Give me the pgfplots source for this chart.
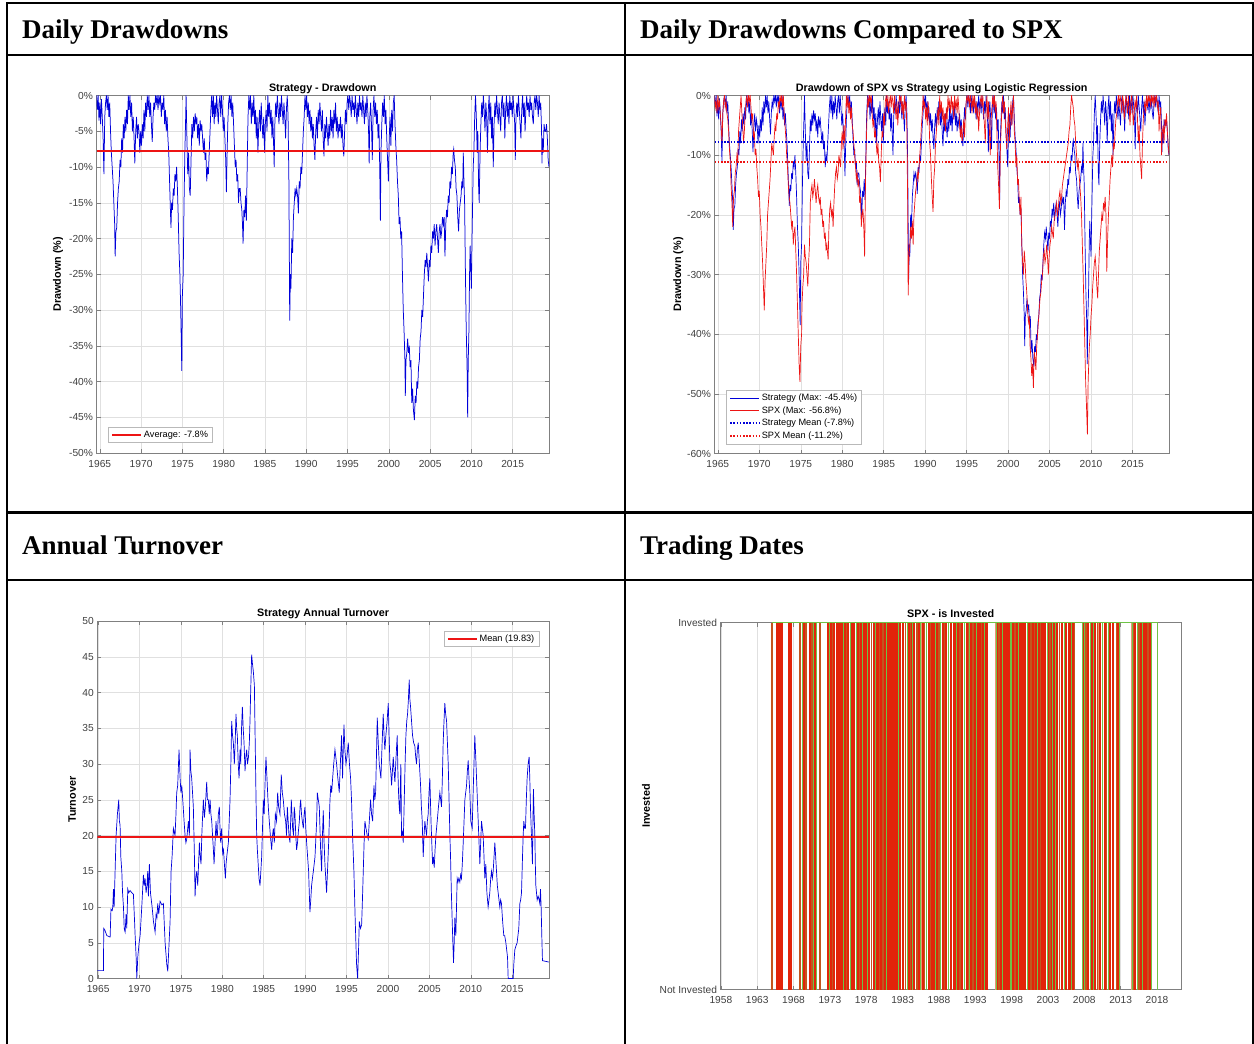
\documentclass[border=0pt]{standalone}
\usepackage{fontspec}
\setmainfont{Liberation Serif}
\newfontfamily\arial{Liberation Sans}
\usepackage{pgfplots}
\pgfplotsset{compat=1.18}
\usepackage{pgfplotstable}

\definecolor{mblue}{rgb}{0,0,0.85}
\definecolor{mred}{rgb}{0.93,0.08,0.08}
\definecolor{axgray}{gray}{0.5}
\definecolor{tickgray}{gray}{0.25}
\definecolor{gridgray}{gray}{0.88}
\definecolor{barred}{RGB}{226,36,10}
\definecolor{bargreen}{RGB}{110,195,70}
\definecolor{barbrown}{RGB}{195,85,30}
\definecolor{barsalmon}{RGB}{232,150,115}

\pgfplotsset{
  every axis title shift=0pt,
  mstyle/.style={
    scale only axis,
    axis line style={axgray, line width=0.6pt},
    tick style={axgray, line width=0.5pt},
    major tick length=4pt,
    tick align=inside,
    grid=major,
    grid style={gridgray, line width=0.5pt},
    tick label style={font=\arial\fontsize{10.2}{11}\selectfont, text=tickgray},
    /pgf/number format/assume math mode=true,
    /pgf/number format/1000 sep={},
    xticklabel style={yshift=-3.5pt},
    title style={font=\arial\bfseries\fontsize{10.8}{12}\selectfont, at={(0.5,1)}, anchor=base, yshift=4.5pt},
    ylabel style={font=\arial\bfseries\fontsize{10.8}{12}\selectfont, anchor=center},
    legend style={font=\arial\fontsize{9.2}{10}\selectfont, draw=gray!55, line width=0.5pt, fill=white, inner xsep=3pt, inner ysep=1.5pt, nodes={inner sep=1.5pt, text height=7pt, text depth=2pt}},
    legend cell align=left,
    legend image code/.code={\draw[#1] (0pt,0pt) -- (29pt,0pt);},
  }
}

\pgfplotstableread[row sep=\\]{
x y\\
1964.6 0\\ 1964.7 -2\\ 1964.8 0\\ 1964.9 -3.5\\ 1965.0 -1\\ 1965.1 -4\\ 1965.2 -0.5\\ 1965.3 -3\\ 1965.4 -6\\ 1965.5 -11\\
1965.6 -3\\ 1965.7 -1\\ 1965.8 0\\ 1965.9 -2\\ 1966.0 0\\ 1966.1 -3\\ 1966.2 -1\\ 1966.3 -5\\ 1966.4 -8\\ 1966.5 -10\\
1966.6 -12\\ 1966.7 -15\\ 1966.8 -18\\ 1966.86 -22.5\\ 1966.95 -19\\ 1967.05 -18.5\\ 1967.15 -15\\ 1967.25 -13\\ 1967.35 -12\\ 1967.45 -9\\
1967.55 -10\\ 1967.65 -6\\ 1967.75 -8\\ 1967.85 -4\\ 1967.95 -6\\ 1968.05 -3\\ 1968.15 -5\\ 1968.25 -2\\ 1968.35 -4\\ 1968.45 0\\
1968.55 -2\\ 1968.65 0\\ 1968.75 -3\\ 1968.85 -1\\ 1968.95 -5\\ 1969.05 -3\\ 1969.15 -6\\ 1969.24 -9.5\\ 1969.35 -5\\ 1969.45 -3\\
1969.55 -6\\ 1969.65 -4\\ 1969.75 -5\\ 1969.85 -8\\ 1969.95 -5\\ 1970.05 -7\\ 1970.15 -4\\ 1970.25 -6\\ 1970.35 -2\\ 1970.45 -5\\
1970.55 -1\\ 1970.65 -3\\ 1970.75 0\\ 1970.85 -2\\ 1970.95 0\\ 1971.05 -3\\ 1971.15 -1\\ 1971.25 -4\\ 1971.35 -6.5\\ 1971.45 -3\\
1971.55 -1\\ 1971.65 -2\\ 1971.75 0\\ 1971.85 -1\\ 1971.95 0\\ 1972.05 -2\\ 1972.15 0\\ 1972.25 -1\\ 1972.35 0\\ 1972.45 -3\\
1972.55 -1\\ 1972.65 -2\\ 1972.75 0\\ 1972.85 -4\\ 1972.95 -2\\ 1973.05 -5\\ 1973.15 -3\\ 1973.25 -6\\ 1973.35 -8\\ 1973.45 -12\\
1973.55 -16\\ 1973.62 -18.5\\ 1973.7 -15\\ 1973.8 -16\\ 1973.9 -13\\ 1974.0 -14\\ 1974.1 -11\\ 1974.2 -12\\ 1974.3 -10\\ 1974.4 -13\\
1974.5 -17\\ 1974.6 -22\\ 1974.7 -25\\ 1974.8 -30\\ 1974.93 -38.5\\ 1975.0 -28\\ 1975.1 -25\\ 1975.2 -15\\ 1975.3 -8\\ 1975.4 -3\\
1975.45 0\\ 1975.55 -6\\ 1975.65 -11\\ 1975.75 -8\\ 1975.85 -13\\ 1975.95 -14\\ 1976.05 -9\\ 1976.15 -4\\ 1976.25 -6\\ 1976.35 -3\\
1976.45 -5\\ 1976.55 -2.5\\ 1976.65 -4\\ 1976.75 -3\\ 1976.85 -6\\ 1976.95 -4\\ 1977.05 -7\\ 1977.15 -3.5\\ 1977.25 -5\\ 1977.35 -4\\
1977.45 -6\\ 1977.55 -8\\ 1977.65 -6\\ 1977.75 -9\\ 1977.85 -8\\ 1977.95 -12\\ 1978.05 -10\\ 1978.15 -11\\ 1978.25 -8\\ 1978.35 -5\\
1978.45 -2\\ 1978.55 0\\ 1978.65 -3\\ 1978.75 0\\ 1978.85 -4\\ 1978.95 -1\\ 1979.05 -3\\ 1979.15 0\\ 1979.25 -2\\ 1979.35 -4\\
1979.45 -1\\ 1979.55 0\\ 1979.65 -3\\ 1979.75 0\\ 1979.85 -2\\ 1979.95 -5\\ 1980.05 -3\\ 1980.15 -6\\ 1980.25 -9\\ 1980.33 -13.5\\
1980.42 -8\\ 1980.5 -4\\ 1980.6 -1\\ 1980.7 0\\ 1980.8 -2\\ 1980.9 0\\ 1981.0 -3\\ 1981.1 -1\\ 1981.2 -4\\ 1981.3 -7\\
1981.4 -10\\ 1981.5 -9\\ 1981.6 -12\\ 1981.7 -11\\ 1981.8 -15\\ 1981.9 -13\\ 1982.0 -13\\ 1982.1 -15\\ 1982.2 -16\\ 1982.28 -18\\
1982.35 -20.7\\ 1982.45 -16\\ 1982.55 -17\\ 1982.65 -14\\ 1982.75 -17.5\\ 1982.85 -10\\ 1982.95 -3\\ 1983.05 0\\ 1983.15 -2\\ 1983.25 0\\
1983.35 -4\\ 1983.45 -1\\ 1983.55 -3\\ 1983.65 0\\ 1983.75 -4\\ 1983.85 -2\\ 1983.95 -6\\ 1984.05 -3\\ 1984.15 -8\\ 1984.25 -4\\
1984.35 -2\\ 1984.45 -5\\ 1984.55 -1\\ 1984.65 -4\\ 1984.75 -6\\ 1984.85 -3\\ 1984.95 -8\\ 1985.05 -4\\ 1985.15 -2\\ 1985.25 -5\\
1985.35 0\\ 1985.45 -3\\ 1985.55 -1\\ 1985.65 -4\\ 1985.75 -2\\ 1985.85 -6\\ 1985.95 -3\\ 1986.05 -7\\ 1986.12 -10\\ 1986.2 -4\\
1986.3 -1\\ 1986.4 -3\\ 1986.5 0\\ 1986.6 -2\\ 1986.7 -4\\ 1986.8 -1\\ 1986.9 -3\\ 1987.0 0\\ 1987.1 -2\\ 1987.2 -4\\
1987.3 -1\\ 1987.4 -3\\ 1987.5 -6\\ 1987.6 -2\\ 1987.7 0\\ 1987.8 -3\\ 1987.9 -12\\ 1988.0 -31.5\\ 1988.08 -25\\ 1988.15 -27\\
1988.25 -20\\ 1988.35 -22\\ 1988.45 -17\\ 1988.55 -15\\ 1988.65 -13\\ 1988.75 -14\\ 1988.85 -13\\ 1988.95 -14\\ 1989.05 -16.5\\ 1989.15 -12\\
1989.25 -13\\ 1989.35 -10\\ 1989.45 -11\\ 1989.55 -8\\ 1989.65 -5\\ 1989.75 -3\\ 1989.85 0\\ 1989.95 -2\\ 1990.05 0\\ 1990.15 -3\\
1990.25 -1\\ 1990.35 -4\\ 1990.45 -2\\ 1990.55 -5\\ 1990.65 -3\\ 1990.75 -6\\ 1990.85 -4\\ 1990.95 -7\\ 1991.05 -9\\ 1991.15 -5\\
1991.25 -3\\ 1991.35 -6\\ 1991.45 -2\\ 1991.55 -4\\ 1991.65 -1\\ 1991.75 -3\\ 1991.85 -5\\ 1991.95 -2\\ 1992.05 -6\\ 1992.15 -8.5\\
1992.25 -4\\ 1992.35 -6\\ 1992.45 -3\\ 1992.55 -5\\ 1992.65 -7\\ 1992.75 -4\\ 1992.85 -6\\ 1992.95 -2\\ 1993.05 -5\\ 1993.15 -3\\
1993.25 -6\\ 1993.35 -2\\ 1993.45 -4\\ 1993.55 -1\\ 1993.65 -5\\ 1993.75 -3\\ 1993.85 -6\\ 1993.95 -4\\ 1994.05 -5\\ 1994.15 -3\\
1994.25 -6\\ 1994.35 -4\\ 1994.45 -7\\ 1994.55 -8.5\\ 1994.65 -5\\ 1994.75 -2\\ 1994.85 -4\\ 1994.95 -1\\ 1995.05 0\\ 1995.15 -2\\
1995.25 0\\ 1995.35 -1\\ 1995.45 -3\\ 1995.55 0\\ 1995.65 -2\\ 1995.75 -1\\ 1995.85 -3\\ 1995.95 0\\ 1996.05 -2\\ 1996.15 -4\\
1996.25 -1\\ 1996.35 -3\\ 1996.45 0\\ 1996.55 -2\\ 1996.65 -1\\ 1996.75 -3\\ 1996.85 0\\ 1996.95 -2\\ 1997.05 -4\\ 1997.15 -1\\
1997.25 -3\\ 1997.35 0\\ 1997.45 -2\\ 1997.55 -5\\ 1997.62 -9.5\\ 1997.7 -3\\ 1997.8 -1\\ 1997.9 -4\\ 1998.0 -9\\ 1998.1 -2\\
1998.2 0\\ 1998.3 -3\\ 1998.4 -1\\ 1998.5 -4\\ 1998.6 -2\\ 1998.7 -6\\ 1998.8 -4\\ 1998.9 -10\\ 1998.98 -17.5\\ 1999.05 -8\\
1999.15 -4\\ 1999.25 -1\\ 1999.35 -3\\ 1999.45 0\\ 1999.55 -4\\ 1999.65 -2\\ 1999.75 -6\\ 1999.85 -9\\ 1999.95 -12\\ 2000.05 -6\\
2000.15 -3\\ 2000.25 -7\\ 2000.35 -2\\ 2000.45 -5\\ 2000.55 -1\\ 2000.65 0\\ 2000.75 -4\\ 2000.85 -7\\ 2000.95 -9\\ 2001.05 -12\\
2001.15 -14\\ 2001.25 -18\\ 2001.35 -17\\ 2001.45 -20\\ 2001.55 -19\\ 2001.65 -25\\ 2001.75 -30\\ 2001.85 -33\\ 2001.95 -37\\ 2002.0 -42\\
2002.08 -37\\ 2002.18 -36\\ 2002.28 -34\\ 2002.38 -36\\ 2002.48 -35\\ 2002.58 -38\\ 2002.68 -37\\ 2002.78 -43\\ 2002.88 -41\\ 2002.98 -44\\
2003.1 -45.4\\ 2003.2 -42\\ 2003.3 -43\\ 2003.4 -40\\ 2003.5 -41\\ 2003.6 -38\\ 2003.7 -37\\ 2003.8 -34\\ 2003.9 -33\\ 2004.0 -30\\
2004.1 -31\\ 2004.2 -28\\ 2004.3 -25\\ 2004.4 -23\\ 2004.5 -24\\ 2004.6 -22\\ 2004.7 -24\\ 2004.8 -26\\ 2004.9 -23\\ 2005.0 -24\\
2005.1 -21\\ 2005.2 -22\\ 2005.3 -19\\ 2005.4 -20\\ 2005.5 -18\\ 2005.6 -21\\ 2005.7 -19\\ 2005.8 -18\\ 2005.9 -20\\ 2006.0 -22\\
2006.1 -19\\ 2006.2 -18\\ 2006.3 -20\\ 2006.4 -19\\ 2006.5 -17\\ 2006.6 -18\\ 2006.7 -17\\ 2006.8 -22.5\\ 2006.9 -18\\ 2007.0 -16\\
2007.1 -17\\ 2007.2 -14\\ 2007.3 -15\\ 2007.4 -12\\ 2007.5 -13\\ 2007.6 -10\\ 2007.7 -11\\ 2007.8 -8\\ 2007.86 -7.5\\ 2007.95 -9\\
2008.05 -10\\ 2008.15 -13\\ 2008.25 -14\\ 2008.35 -17\\ 2008.45 -19\\ 2008.55 -16\\ 2008.65 -15\\ 2008.75 -14\\ 2008.85 -12\\ 2008.95 -13\\
2009.02 -8\\ 2009.1 -12\\ 2009.18 -15\\ 2009.28 -25\\ 2009.38 -33\\ 2009.48 -38\\ 2009.55 -45\\ 2009.62 -37\\ 2009.7 -33\\ 2009.78 -25\\
2009.85 -21\\ 2009.92 -24\\ 2010.0 -27\\ 2010.08 -20\\ 2010.15 -15\\ 2010.22 -10\\ 2010.3 -8\\ 2010.4 -3\\ 2010.5 0\\ 2010.6 -3\\
2010.7 -8\\ 2010.78 -5\\ 2010.88 -13\\ 2010.95 -15\\ 2011.05 -8\\ 2011.15 -4\\ 2011.25 -1\\ 2011.35 -3\\ 2011.45 0\\ 2011.55 -2\\
2011.65 -5\\ 2011.75 -1\\ 2011.85 -3\\ 2011.95 -8\\ 2012.05 -2\\ 2012.15 0\\ 2012.25 -4\\ 2012.35 -1\\ 2012.45 -6\\ 2012.55 -3\\
2012.65 -10\\ 2012.75 -4\\ 2012.85 -1\\ 2012.95 -3\\ 2013.05 0\\ 2013.15 -2\\ 2013.25 -4\\ 2013.35 -1\\ 2013.45 -3\\ 2013.55 -5\\
2013.65 -1\\ 2013.75 0\\ 2013.85 -3\\ 2013.95 -1\\ 2014.05 -6\\ 2014.15 -2\\ 2014.25 0\\ 2014.35 -3\\ 2014.45 -1\\ 2014.55 -4\\
2014.65 0\\ 2014.75 -2\\ 2014.85 -1\\ 2014.95 -3\\ 2015.05 0\\ 2015.15 -2\\ 2015.25 -4\\ 2015.32 -9\\ 2015.4 -3\\ 2015.5 -1\\
2015.6 -3\\ 2015.7 0\\ 2015.8 -2\\ 2015.9 -4\\ 2016.0 -6\\ 2016.1 -2\\ 2016.2 0\\ 2016.3 -3\\ 2016.4 -1\\ 2016.5 -5\\
2016.6 -2\\ 2016.7 0\\ 2016.8 -2\\ 2016.9 -1\\ 2017.0 -3\\ 2017.1 0\\ 2017.2 -2\\ 2017.3 -1\\ 2017.4 -3\\ 2017.5 -4\\
2017.6 -1\\ 2017.7 0\\ 2017.8 -2\\ 2017.9 0\\ 2018.0 -1\\ 2018.1 -3\\ 2018.2 0\\ 2018.3 -2\\ 2018.4 -1\\ 2018.5 -5\\
2018.55 -9.5\\ 2018.6 -6\\ 2018.7 -8\\ 2018.8 -4\\ 2018.9 -5\\ 2019.0 -5\\ 2019.1 -4\\ 2019.2 -6\\ 2019.3 -9\\ 2019.4 -10\\
}\strat

\pgfplotstableread[row sep=\\]{
x y\\
1964.6 0\\ 1964.7 -2\\ 1964.8 -1\\ 1964.9 -3\\ 1965.0 0\\ 1965.1 -2\\ 1965.2 -1\\ 1965.3 -3\\ 1965.4 -5\\ 1965.5 -8\\
1965.6 -3\\ 1965.7 -1\\ 1965.8 0\\ 1965.9 -2\\ 1966.0 -1\\ 1966.1 -3\\ 1966.2 -4\\ 1966.3 -6\\ 1966.4 -9\\ 1966.5 -11\\
1966.6 -15\\ 1966.7 -18\\ 1966.8 -22\\ 1966.9 -17\\ 1967.0 -16\\ 1967.1 -13\\ 1967.2 -12\\ 1967.3 -10\\ 1967.4 -11\\ 1967.5 -6\\
1967.6 -4\\ 1967.7 -2\\ 1967.8 0\\ 1967.9 -3\\ 1968.0 -5\\ 1968.1 -8\\ 1968.2 -6\\ 1968.3 -3\\ 1968.4 -1\\ 1968.5 0\\
1968.6 -2\\ 1968.7 0\\ 1968.8 -1\\ 1968.9 0\\ 1969.0 -2\\ 1969.1 -4\\ 1969.2 -3\\ 1969.3 -7\\ 1969.4 -6\\ 1969.5 -10\\
1969.6 -9\\ 1969.7 -12\\ 1969.8 -14\\ 1969.9 -17\\ 1970.0 -16\\ 1970.1 -20\\ 1970.2 -22\\ 1970.3 -25\\ 1970.4 -28\\ 1970.5 -32\\
1970.6 -36\\ 1970.7 -31\\ 1970.8 -28\\ 1970.9 -25\\ 1971.0 -20\\ 1971.1 -18\\ 1971.2 -16\\ 1971.3 -14\\ 1971.4 -11\\ 1971.5 -8\\
1971.6 -9\\ 1971.7 -10\\ 1971.8 -7\\ 1971.9 -5\\ 1972.0 -6\\ 1972.1 -3\\ 1972.2 -4\\ 1972.3 -1\\ 1972.4 -2\\ 1972.5 0\\
1972.6 -1\\ 1972.7 0\\ 1972.8 -2\\ 1972.9 0\\ 1973.0 -3\\ 1973.1 -5\\ 1973.2 -7\\ 1973.3 -10\\ 1973.4 -12\\ 1973.5 -15\\
1973.6 -17\\ 1973.7 -18\\ 1973.8 -20\\ 1973.9 -22\\ 1974.0 -21\\ 1974.1 -25\\ 1974.2 -23\\ 1974.3 -22\\ 1974.4 -26\\ 1974.5 -30\\
1974.6 -35\\ 1974.7 -40\\ 1974.8 -45\\ 1974.9 -48\\ 1975.0 -42\\ 1975.1 -40\\ 1975.15 -35\\ 1975.25 -32\\ 1975.35 -30\\ 1975.45 -25\\
1975.55 -27\\ 1975.65 -28\\ 1975.75 -30\\ 1975.85 -32\\ 1975.95 -28\\ 1976.05 -25\\ 1976.15 -18\\ 1976.25 -16\\ 1976.35 -15\\ 1976.45 -17\\
1976.55 -16\\ 1976.65 -14\\ 1976.75 -16\\ 1976.85 -18\\ 1976.95 -16\\ 1977.05 -15\\ 1977.15 -17\\ 1977.25 -18\\ 1977.35 -17\\ 1977.45 -20\\
1977.55 -19\\ 1977.65 -22\\ 1977.75 -21\\ 1977.85 -24\\ 1977.95 -23\\ 1978.05 -26\\ 1978.15 -25\\ 1978.3 -27.5\\ 1978.4 -22\\ 1978.5 -19\\
1978.6 -18\\ 1978.7 -20\\ 1978.8 -19\\ 1978.9 -22\\ 1979.0 -18\\ 1979.1 -15\\ 1979.2 -13\\ 1979.3 -12\\ 1979.4 -14\\ 1979.5 -13\\
1979.6 -10\\ 1979.7 -11\\ 1979.8 -12\\ 1979.9 -8\\ 1980.0 -6\\ 1980.1 -9\\ 1980.2 -5\\ 1980.3 -8\\ 1980.4 -4\\ 1980.5 0\\
1980.6 -2\\ 1980.7 0\\ 1980.8 -3\\ 1980.9 -1\\ 1981.0 -4\\ 1981.1 -2\\ 1981.2 -5\\ 1981.3 -6\\ 1981.4 -8\\ 1981.5 -10\\
1981.6 -12\\ 1981.7 -14\\ 1981.8 -13\\ 1981.9 -15\\ 1982.0 -14\\ 1982.1 -18\\ 1982.2 -17\\ 1982.3 -22\\ 1982.4 -20\\ 1982.5 -19\\
1982.6 -22\\ 1982.7 -27\\ 1982.8 -15\\ 1982.9 -8\\ 1983.0 -3\\ 1983.1 0\\ 1983.2 -2\\ 1983.3 0\\ 1983.4 -1\\ 1983.5 0\\
1983.6 -3\\ 1983.7 -5\\ 1983.8 -4\\ 1983.9 -7\\ 1984.0 -6\\ 1984.1 -8\\ 1984.2 -10\\ 1984.3 -8\\ 1984.4 -11\\ 1984.5 -12\\
1984.6 -14.5\\ 1984.7 -10\\ 1984.8 -6\\ 1984.9 -7\\ 1985.0 -3\\ 1985.1 -5\\ 1985.2 -1\\ 1985.3 0\\ 1985.4 -2\\ 1985.5 0\\
1985.6 -3\\ 1985.7 -1\\ 1985.8 0\\ 1985.9 -2\\ 1986.0 0\\ 1986.1 -1\\ 1986.2 -3\\ 1986.3 0\\ 1986.4 -2\\ 1986.5 -4\\
1986.6 -1\\ 1986.7 -5\\ 1986.8 -2\\ 1986.9 0\\ 1987.0 -1\\ 1987.1 0\\ 1987.2 -3\\ 1987.3 -1\\ 1987.4 -4\\ 1987.5 0\\
1987.6 -2\\ 1987.7 -1\\ 1987.8 -6\\ 1987.9 -20\\ 1987.95 -33.5\\ 1988.05 -27\\ 1988.15 -25\\ 1988.25 -22\\ 1988.35 -24\\ 1988.45 -21\\
1988.55 -25\\ 1988.65 -20\\ 1988.75 -18\\ 1988.85 -16\\ 1988.95 -15\\ 1989.05 -13\\ 1989.15 -14\\ 1989.25 -12\\ 1989.35 -10\\ 1989.45 -8\\
1989.55 -5\\ 1989.65 -3\\ 1989.75 0\\ 1989.85 -2\\ 1989.95 -1\\ 1990.05 -4\\ 1990.15 -2\\ 1990.25 -5\\ 1990.35 -1\\ 1990.45 -3\\
1990.55 -8\\ 1990.65 -10\\ 1990.75 -14\\ 1990.85 -17\\ 1990.95 -19.5\\ 1991.05 -14\\ 1991.15 -12\\ 1991.25 -8\\ 1991.35 -6\\ 1991.45 -4\\
1991.55 -2\\ 1991.65 -5\\ 1991.75 0\\ 1991.85 -3\\ 1991.95 -1\\ 1992.05 -4\\ 1992.15 -2\\ 1992.25 -5\\ 1992.35 -3\\ 1992.45 -6\\
1992.55 -2\\ 1992.65 -4\\ 1992.75 0\\ 1992.85 -2\\ 1992.95 -1\\ 1993.05 -3\\ 1993.15 0\\ 1993.25 -2\\ 1993.35 -1\\ 1993.45 -4\\
1993.55 0\\ 1993.65 -2\\ 1993.75 -1\\ 1993.85 -3\\ 1993.95 0\\ 1994.05 -2\\ 1994.15 -5\\ 1994.25 -7\\ 1994.35 -5\\ 1994.45 -8\\
1994.55 -6\\ 1994.65 -4\\ 1994.75 -7\\ 1994.85 -3\\ 1994.95 -1\\ 1995.05 0\\ 1995.15 -1\\ 1995.25 0\\ 1995.35 -2\\ 1995.45 0\\
1995.55 -1\\ 1995.65 -3\\ 1995.75 0\\ 1995.85 -2\\ 1995.95 0\\ 1996.05 -3\\ 1996.15 -1\\ 1996.25 -4\\ 1996.35 -2\\ 1996.45 -6\\
1996.55 -3\\ 1996.65 -1\\ 1996.75 0\\ 1996.85 -2\\ 1996.95 0\\ 1997.05 -3\\ 1997.15 -5\\ 1997.25 -8\\ 1997.35 -2\\ 1997.45 0\\
1997.55 -4\\ 1997.65 -1\\ 1997.75 -6\\ 1997.85 -10\\ 1997.95 -4\\ 1998.05 -2\\ 1998.15 0\\ 1998.25 -2\\ 1998.35 0\\ 1998.45 -3\\
1998.55 -1\\ 1998.65 -6\\ 1998.75 -12\\ 1998.85 -15\\ 1998.95 -19\\ 1999.05 -10\\ 1999.15 -6\\ 1999.25 -2\\ 1999.35 0\\ 1999.45 -3\\
1999.55 -1\\ 1999.65 -4\\ 1999.75 -7\\ 1999.85 -9\\ 1999.95 -5\\ 2000.05 -2\\ 2000.15 -8\\ 2000.25 -4\\ 2000.35 -1\\ 2000.45 -5\\
2000.55 -2\\ 2000.65 0\\ 2000.75 -6\\ 2000.85 -8\\ 2000.95 -12\\ 2001.05 -10\\ 2001.15 -15\\ 2001.25 -14\\ 2001.35 -18\\ 2001.45 -20\\
2001.55 -17\\ 2001.65 -25\\ 2001.75 -28\\ 2001.85 -30\\ 2001.95 -26\\ 2002.05 -28\\ 2002.15 -31\\ 2002.25 -33\\ 2002.35 -36\\ 2002.45 -38\\
2002.55 -37\\ 2002.65 -42\\ 2002.75 -44\\ 2002.85 -47\\ 2002.95 -45\\ 2003.05 -49\\ 2003.15 -43\\ 2003.25 -44\\ 2003.35 -46\\ 2003.45 -42\\
2003.55 -40\\ 2003.65 -38\\ 2003.75 -36\\ 2003.85 -34\\ 2003.95 -33\\ 2004.05 -31\\ 2004.15 -30\\ 2004.25 -27\\ 2004.35 -26\\ 2004.45 -28\\
2004.55 -27\\ 2004.65 -25\\ 2004.75 -27\\ 2004.85 -30\\ 2004.95 -27\\ 2005.05 -25\\ 2005.15 -24\\ 2005.25 -22\\ 2005.35 -23\\ 2005.45 -24\\
2005.55 -21\\ 2005.65 -20\\ 2005.75 -19\\ 2005.85 -18\\ 2005.95 -20\\ 2006.05 -19\\ 2006.15 -17\\ 2006.25 -16\\ 2006.35 -18\\ 2006.45 -17\\
2006.55 -15\\ 2006.65 -14\\ 2006.75 -13\\ 2006.85 -12\\ 2006.95 -11\\ 2007.05 -10\\ 2007.15 -9\\ 2007.25 -8\\ 2007.35 -6\\ 2007.45 -5\\
2007.55 -2\\ 2007.65 0\\ 2007.75 -1\\ 2007.85 -2\\ 2007.95 -4\\ 2008.05 -5\\ 2008.15 -8\\ 2008.25 -10\\ 2008.35 -12\\ 2008.45 -11\\
2008.55 -13\\ 2008.65 -15\\ 2008.75 -17\\ 2008.85 -20\\ 2008.95 -25\\ 2009.05 -30\\ 2009.15 -36\\ 2009.25 -42\\ 2009.35 -48\\ 2009.45 -52\\
2009.56 -56.8\\ 2009.65 -48\\ 2009.72 -45\\ 2009.8 -42\\ 2009.9 -40\\ 2010.0 -37\\ 2010.1 -35\\ 2010.2 -32\\ 2010.3 -30\\ 2010.4 -28\\
2010.5 -27\\ 2010.6 -29\\ 2010.7 -32\\ 2010.8 -34\\ 2010.9 -30\\ 2011.0 -26\\ 2011.1 -24\\ 2011.2 -22\\ 2011.3 -20\\ 2011.4 -21\\
2011.5 -18\\ 2011.6 -19\\ 2011.7 -17\\ 2011.8 -20\\ 2011.9 -29.5\\ 2012.0 -24\\ 2012.1 -20\\ 2012.2 -17\\ 2012.3 -14\\ 2012.4 -12\\
2012.5 -10\\ 2012.6 -12\\ 2012.7 -8\\ 2012.8 -9\\ 2012.9 -6\\ 2013.0 -4\\ 2013.1 -3\\ 2013.2 -1\\ 2013.3 0\\ 2013.4 -2\\
2013.5 0\\ 2013.6 -1\\ 2013.7 -3\\ 2013.8 0\\ 2013.9 -1\\ 2014.0 -4\\ 2014.1 -2\\ 2014.2 0\\ 2014.3 -1\\ 2014.4 -3\\
2014.5 0\\ 2014.6 -2\\ 2014.7 -5\\ 2014.8 -1\\ 2014.9 0\\ 2015.0 -2\\ 2015.1 -5\\ 2015.2 -3\\ 2015.3 -1\\ 2015.4 -2\\
2015.5 0\\ 2015.6 -4\\ 2015.7 -8\\ 2015.8 -5\\ 2015.9 -10\\ 2016.0 -12\\ 2016.1 -14\\ 2016.2 -8\\ 2016.3 -4\\ 2016.4 -2\\
2016.5 -1\\ 2016.6 -3\\ 2016.7 0\\ 2016.8 -2\\ 2016.9 0\\ 2017.0 -1\\ 2017.1 0\\ 2017.2 -2\\ 2017.3 0\\ 2017.4 -1\\
2017.5 0\\ 2017.6 -2\\ 2017.7 0\\ 2017.8 -1\\ 2017.9 0\\ 2018.0 -2\\ 2018.1 -1\\ 2018.2 -6\\ 2018.3 -3\\ 2018.4 -2\\
2018.5 -10\\ 2018.6 -6\\ 2018.7 -5\\ 2018.8 -8\\ 2018.9 -4\\ 2019.0 -5\\ 2019.1 -3\\ 2019.2 -6\\ 2019.3 -8\\ 2019.4 -10\\
}\spx

\pgfplotstableread[row sep=\\]{
x y\\
1964.9 1.1\\ 1965.64 1.1\\ 1965.68 7\\ 1965.8 6.8\\ 1966.05 6\\ 1966.45 5.8\\ 1966.55 9.7\\ 1966.7 9.5\\ 1966.77 10\\ 1966.85 12.5\\
1966.93 10\\ 1967.05 15\\ 1967.17 20\\ 1967.33 23\\ 1967.49 25\\ 1967.57 22\\ 1967.65 21.5\\ 1967.74 17\\ 1967.86 15\\ 1967.95 12\\
1968.06 10\\ 1968.15 7\\ 1968.26 6.5\\ 1968.38 9\\ 1968.46 7\\ 1968.58 12.5\\ 1968.7 12\\ 1968.86 12.3\\ 1969.06 12\\ 1969.26 11.8\\
1969.4 8\\ 1969.47 6\\ 1969.59 3\\ 1969.67 0\\ 1969.79 3\\ 1969.95 5\\ 1970.07 6\\ 1970.27 10\\ 1970.47 14.5\\ 1970.57 13\\
1970.67 14\\ 1970.79 12\\ 1970.9 13\\ 1970.99 15\\ 1971.07 11.5\\ 1971.19 16\\ 1971.32 12\\ 1971.52 10\\ 1971.68 8\\ 1971.88 6.5\\
1972.0 9\\ 1972.1 8.5\\ 1972.2 10.5\\ 1972.32 9\\ 1972.48 10.8\\ 1972.7 10.3\\ 1972.88 10.5\\ 1973.09 5\\ 1973.29 2\\ 1973.41 1\\
1973.53 4\\ 1973.69 8\\ 1973.81 15\\ 1973.93 17\\ 1974.09 21\\ 1974.29 20\\ 1974.4 23\\ 1974.49 26\\ 1974.61 27\\ 1974.77 32\\
1974.9 28\\ 1975.0 26\\ 1975.1 27\\ 1975.22 25\\ 1975.38 22\\ 1975.5 20\\ 1975.6 19\\ 1975.7 19.5\\ 1975.9 22\\ 1976.02 20\\
1976.1 32\\ 1976.2 29\\ 1976.3 28\\ 1976.4 26\\ 1976.5 24\\ 1976.63 17\\ 1976.71 11.5\\ 1976.8 14\\ 1976.91 15\\ 1977.03 13\\
1977.13 16\\ 1977.23 19\\ 1977.33 17\\ 1977.43 16\\ 1977.52 20\\ 1977.59 22\\ 1977.71 25\\ 1977.83 22.5\\ 1977.95 24\\ 1978.11 27.5\\
1978.2 25\\ 1978.31 25\\ 1978.42 23\\ 1978.52 25\\ 1978.62 23\\ 1978.72 22\\ 1978.82 20\\ 1978.92 18\\ 1979.0 16\\ 1979.12 19\\
1979.24 22\\ 1979.32 20\\ 1979.4 20\\ 1979.52 23\\ 1979.64 24\\ 1979.72 21\\ 1979.8 19\\ 1979.92 21\\ 1980.04 17.5\\ 1980.14 18\\
1980.25 16\\ 1980.37 14\\ 1980.45 16\\ 1980.53 17\\ 1980.63 18\\ 1980.73 19\\ 1980.83 22\\ 1980.93 25\\ 1981.03 30\\ 1981.13 36\\
1981.23 34\\ 1981.33 33\\ 1981.45 30\\ 1981.55 33\\ 1981.65 37\\ 1981.73 35\\ 1981.81 34\\ 1981.92 30\\ 1982.02 28\\ 1982.14 32\\
1982.22 30\\ 1982.32 35\\ 1982.42 38\\ 1982.52 35\\ 1982.62 33\\ 1982.74 29\\ 1982.84 31\\ 1982.94 32\\ 1983.04 30\\ 1983.16 31\\
1983.26 33\\ 1983.34 36\\ 1983.42 40\\ 1983.54 45.3\\ 1983.64 44\\ 1983.74 43\\ 1983.87 41\\ 1983.97 33\\ 1984.07 25\\ 1984.15 20\\
1984.23 18\\ 1984.33 16\\ 1984.43 14\\ 1984.55 13\\ 1984.65 15\\ 1984.75 17\\ 1984.85 21\\ 1984.95 25\\ 1985.05 23\\ 1985.15 27\\
1985.27 31\\ 1985.35 29\\ 1985.43 27\\ 1985.55 24\\ 1985.67 22\\ 1985.8 20\\ 1985.96 18\\ 1986.06 20\\ 1986.16 21\\ 1986.28 19\\
1986.4 23\\ 1986.55 22\\ 1986.68 26\\ 1986.8 24\\ 1986.96 23\\ 1987.04 26\\ 1987.12 28.5\\ 1987.24 26\\ 1987.36 25\\ 1987.5 23\\
1987.65 22\\ 1987.75 20\\ 1987.85 24\\ 1987.95 22\\ 1988.05 20\\ 1988.17 19\\ 1988.25 22\\ 1988.33 25\\ 1988.41 23\\ 1988.49 21\\
1988.6 20\\ 1988.68 24\\ 1988.77 23\\ 1988.87 20\\ 1988.97 18\\ 1989.08 19\\ 1989.18 20.5\\ 1989.3 22\\ 1989.38 24\\ 1989.46 25\\
1989.56 23\\ 1989.66 22\\ 1989.78 21\\ 1989.88 23\\ 1989.98 24\\ 1990.08 21\\ 1990.18 19\\ 1990.3 17\\ 1990.42 15\\ 1990.5 12\\
1990.58 9.3\\ 1990.68 11\\ 1990.78 13\\ 1990.88 14\\ 1990.99 15\\ 1991.09 16\\ 1991.19 17\\ 1991.31 20\\ 1991.39 22\\ 1991.47 26\\
1991.59 25\\ 1991.71 24\\ 1991.79 21\\ 1991.87 18\\ 1991.99 15\\ 1992.09 20\\ 1992.19 23.5\\ 1992.29 19\\ 1992.39 16\\ 1992.49 14\\
1992.59 12\\ 1992.7 15\\ 1992.84 19\\ 1992.92 22\\ 1993.0 25\\ 1993.1 27\\ 1993.2 26\\ 1993.32 28\\ 1993.45 30\\ 1993.6 32\\
1993.7 31\\ 1993.8 30\\ 1993.95 28\\ 1994.04 27\\ 1994.12 26\\ 1994.25 30\\ 1994.4 34\\ 1994.46 31\\ 1994.52 28\\ 1994.6 32\\
1994.69 35.5\\ 1994.8 32\\ 1994.93 30\\ 1995.05 31\\ 1995.21 33\\ 1995.35 30\\ 1995.49 28\\ 1995.6 25\\ 1995.73 20\\ 1995.89 15\\
1996.05 8\\ 1996.21 2\\ 1996.34 0\\ 1996.45 4\\ 1996.54 8\\ 1996.68 7\\ 1996.82 7.5\\ 1996.92 11\\ 1997.02 15\\ 1997.12 19\\
1997.22 22\\ 1997.35 21\\ 1997.5 20\\ 1997.62 19.5\\ 1997.75 22\\ 1997.9 25\\ 1998.02 23\\ 1998.15 22\\ 1998.25 25\\ 1998.31 27\\
1998.41 25\\ 1998.51 26\\ 1998.61 31\\ 1998.71 36.5\\ 1998.83 33\\ 1998.95 30\\ 1999.05 29\\ 1999.15 28\\ 1999.3 33\\ 1999.43 37\\
1999.53 34\\ 1999.63 32\\ 1999.75 34\\ 1999.9 36\\ 2000.04 38.5\\ 2000.14 34\\ 2000.24 30\\ 2000.34 29\\ 2000.44 27\\ 2000.54 29\\
2000.64 31\\ 2000.74 29\\ 2000.84 27.5\\ 2000.98 31\\ 2001.12 34\\ 2001.2 29\\ 2001.28 26\\ 2001.36 24\\ 2001.44 23\\ 2001.5 27\\
2001.56 30\\ 2001.64 20\\ 2001.75 20.5\\ 2001.85 19\\ 2001.97 25\\ 2002.07 30\\ 2002.17 34\\ 2002.27 36\\ 2002.37 37\\ 2002.47 39\\
2002.57 41.8\\ 2002.65 39\\ 2002.73 38\\ 2002.85 36\\ 2002.97 34\\ 2003.1 33\\ 2003.25 32.5\\ 2003.35 31\\ 2003.45 30\\ 2003.55 32\\
2003.66 33\\ 2003.8 30\\ 2003.94 27\\ 2004.04 24\\ 2004.14 22\\ 2004.26 17\\ 2004.36 20\\ 2004.46 22\\ 2004.56 21\\ 2004.66 20\\
2004.76 22\\ 2004.86 23\\ 2004.96 26\\ 2005.06 28\\ 2005.2 22\\ 2005.39 16\\ 2005.49 17\\ 2005.59 15.5\\ 2005.69 18\\ 2005.79 20\\
2005.95 22\\ 2006.1 24\\ 2006.27 26\\ 2006.37 25\\ 2006.47 24\\ 2006.57 28\\ 2006.67 33\\ 2006.77 36\\ 2006.87 38.5\\ 2006.97 37\\
2007.08 36\\ 2007.18 33\\ 2007.28 30\\ 2007.4 24\\ 2007.48 20\\ 2007.56 17\\ 2007.66 12\\ 2007.76 8\\ 2007.84 5\\ 2007.92 2.2\\
2008.0 5\\ 2008.08 8.5\\ 2008.14 7\\ 2008.2 6\\ 2008.28 10\\ 2008.36 14\\ 2008.46 13.5\\ 2008.56 14\\ 2008.68 13.5\\ 2008.78 14.5\\
2008.88 14\\ 2008.98 16\\ 2009.09 19\\ 2009.19 22\\ 2009.29 25\\ 2009.39 26\\ 2009.49 27\\ 2009.59 29\\ 2009.69 30.5\\ 2009.79 28\\
2009.89 26\\ 2010.01 22\\ 2010.09 21.5\\ 2010.17 21\\ 2010.29 26\\ 2010.39 30\\ 2010.49 34\\ 2010.6 31\\ 2010.7 28\\ 2010.8 25\\
2010.9 22\\ 2011.0 19\\ 2011.1 16\\ 2011.2 19\\ 2011.3 22\\ 2011.4 21\\ 2011.5 20\\ 2011.6 17\\ 2011.7 14\\ 2011.82 16\\
2011.95 12\\ 2012.1 10\\ 2012.2 11\\ 2012.3 12\\ 2012.41 14\\ 2012.51 15\\ 2012.61 14\\ 2012.71 15\\ 2012.81 17\\ 2012.91 19\\
2013.01 17\\ 2013.11 15\\ 2013.21 13\\ 2013.31 12\\ 2013.41 11\\ 2013.51 10\\ 2013.61 11\\ 2013.71 10.5\\ 2013.85 8\\ 2013.99 6\\
2014.1 6\\ 2014.24 5\\ 2014.34 4\\ 2014.44 3\\ 2014.52 0\\ 2015.12 0\\ 2015.2 2\\ 2015.32 4\\ 2015.44 4.5\\ 2015.6 5\\
2015.7 6\\ 2015.8 7\\ 2015.93 10.5\\ 2016.03 11\\ 2016.13 12\\ 2016.25 17\\ 2016.33 20\\ 2016.41 22\\ 2016.51 21\\ 2016.61 21\\
2016.71 25\\ 2016.81 28\\ 2016.93 30\\ 2017.05 31\\ 2017.13 28\\ 2017.21 24\\ 2017.33 20\\ 2017.45 16\\ 2017.51 22\\ 2017.57 26.5\\
2017.65 23\\ 2017.74 20\\ 2017.8 16\\ 2017.86 13\\ 2017.94 12\\ 2018.02 11\\ 2018.14 11.5\\ 2018.26 11\\ 2018.34 10.5\\ 2018.42 12.5\\
2018.5 10\\ 2018.58 6\\ 2018.66 2.5\\ 2019.42 2.3\\
}\turnover

\begin{document}
\begin{tikzpicture}
\useasboundingbox (0,0) rectangle (1254pt,-1044pt);

% ---------- table frame ----------
\draw[line width=2pt] (6pt,-3pt) -- (1253.5pt,-3pt);
\draw[line width=2pt] (6pt,-54.5pt) -- (1253.5pt,-54.5pt);
\draw[line width=2.6pt] (6pt,-512.5pt) -- (1253.5pt,-512.5pt);
\draw[line width=2pt] (6pt,-580pt) -- (1253.5pt,-580pt);
\draw[line width=2pt] (7pt,-2pt) -- (7pt,-1044pt);
\draw[line width=2pt] (625pt,-2pt) -- (625pt,-1044pt);
\draw[line width=2pt] (1252.5pt,-2pt) -- (1252.5pt,-1044pt);

\node[anchor=base west, inner sep=0pt, font=\bfseries\fontsize{27}{30}\selectfont] at (22pt,-38pt) {Daily Drawdowns};
\node[anchor=base west, inner sep=0pt, font=\bfseries\fontsize{27}{30}\selectfont] at (640pt,-38pt) {Daily Drawdowns Compared to SPX};
\node[anchor=base west, inner sep=0pt, font=\bfseries\fontsize{27}{30}\selectfont] at (22pt,-554pt) {Annual Turnover};
\node[anchor=base west, inner sep=0pt, font=\bfseries\fontsize{27}{30}\selectfont] at (640pt,-554pt) {Trading Dates};

% ---------- chart 1 ----------
\begin{axis}[mstyle,
  at={(96.5pt,-453pt)}, anchor=south west,
  width=452.5pt, height=357.5pt,
  xmin=1964.6, xmax=2019.4, ymin=-50, ymax=0,
  xtick={1965,1970,...,2015}, ytick={-50,-45,...,0},
  yticklabel={\pgfmathprintnumber{\tick}\%},
  title={Strategy - Drawdown},
  ylabel={Drawdown (\%)},
  ylabel style={at={(axis description cs:-0.085,0.5)}},
  legend style={at={(0.0254,0.028)}, anchor=south west},
]
\addplot[mblue, line width=0.75pt, forget plot] table[x=x,y=y] {\strat};
\addplot[mred, line width=2.2pt] coordinates {(1964.6,-7.8) (2019.4,-7.8)};
\addlegendentry{Average: -7.8\%}
\end{axis}

% ---------- chart 2 ----------
\begin{axis}[mstyle,
  at={(714.5pt,-453.5pt)}, anchor=south west,
  width=454.5pt, height=358pt,
  xmin=1964.6, xmax=2019.4, ymin=-60, ymax=0,
  xtick={1965,1970,...,2015}, ytick={-60,-50,...,0},
  yticklabel={\pgfmathprintnumber{\tick}\%},
  title={Drawdown of SPX vs Strategy using Logistic Regression},
  ylabel={Drawdown (\%)},
  ylabel style={at={(axis description cs:-0.0797,0.5)}},
  legend style={at={(0.0253,0.0265)}, anchor=south west, nodes={inner sep=1.5pt, text height=7.3pt, text depth=2.3pt}},
]
\addplot[mblue, line width=0.7pt] table[x=x,y=y] {\strat};
\addlegendentry{Strategy (Max: -45.4\%)}
\addplot[mred, line width=0.7pt] table[x=x,y=y] {\spx};
\addlegendentry{SPX (Max: -56.8\%)}
\addplot[mblue, line width=2pt, dash pattern=on 1.6pt off 1.6pt] coordinates {(1964.6,-7.8) (2019.4,-7.8)};
\addlegendentry{Strategy Mean (-7.8\%)}
\addplot[mred, line width=2pt, dash pattern=on 1.6pt off 1.6pt] coordinates {(1964.6,-11.2) (2019.4,-11.2)};
\addlegendentry{SPX Mean (-11.2\%)}
\end{axis}

% ---------- chart 3 ----------
\begin{axis}[mstyle,
  at={(97.3pt,-978.5pt)}, anchor=south west,
  width=451.7pt, height=357.5pt,
  xmin=1964.9, xmax=2019.45, ymin=0, ymax=50,
  xtick={1965,1970,...,2015}, ytick={0,5,...,50},
  title={Strategy Annual Turnover},
  ylabel={Turnover},
  ylabel style={at={(axis description cs:-0.0553,0.5)}},
  legend style={at={(0.978,0.972)}, anchor=north east},
]
\addplot[mblue, line width=0.7pt, forget plot] table[x=x,y=y] {\turnover};
\addplot[mred, line width=2.2pt] coordinates {(1964.9,19.83) (2019.45,19.83)};
\addlegendentry{Mean (19.83)}
\end{axis}

% ---------- chart 4 ----------
\begin{axis}[mstyle,
  at={(720.5pt,-989.5pt)}, anchor=south west,
  width=460.5pt, height=367pt,
  xmin=1957.95, xmax=2021.3, ymin=0, ymax=1,
  grid=none, xmajorgrids,
  xtick={1958,1963,...,2018}, ytick={0,1},
  yticklabels={Not Invested, Invested},
  title={SPX - is Invested},
  title style={yshift=1pt},
  ylabel={Invested},
  ylabel style={at={(axis description cs:-0.1618,0.5)}},
]
\addplot[ycomb, barsalmon, line width=1.4pt] coordinates {
(1971.0,1) (1974.7,1) (1979.5,1) (1985.6,1) (1988.6,1) (1992.9,1) (1995.8,1) (1998.6,1)
(2002.4,1) (2005.0,1) (2010.0,1) (2014.5,1) (2014.9,1)};
\addplot[ycomb, barbrown, line width=1.6pt] coordinates {
(1965.0,1) (1968.9,1) (1969.7,1) (1970.5,1) (1971.6,1) (1973.4,1) (1974.2,1) (1975.3,1)
(1976.1,1) (1977.0,1) (1977.9,1) (1978.7,1) (1979.9,1) (1980.3,1) (1982.0,1) (1983.4,1)
(1984.0,1) (1985.0,1) (1986.0,1) (1986.9,1) (1988.0,1) (1988.8,1) (1990.0,1) (1990.9,1)
(1992.0,1) (1992.7,1) (1993.8,1) (1994.4,1) (1996.3,1) (1997.4,1) (1998.5,1) (1999.6,1)
(2000.7,1) (2001.2,1) (2002.0,1) (2003.3,1) (2004.6,1) (2005.8,1) (2006.6,1) (2008.2,1)
(2009.8,1) (2011.0,1) (2011.9,1) (2012.4,1) (2014.8,1) (2015.5,1) (2016.8,1)};
\addplot[ycomb, barred, line width=2pt] coordinates {
(1969.4,1) (1970.2,1) (1970.9,1) (1973.2,1) (1973.6,1) (1974.0,1) (1974.6,1) (1975.1,1)
(1975.5,1) (1976.3,1) (1976.8,1) (1977.3,1) (1978.0,1) (1978.4,1) (1979.0,1) (1979.6,1)
(1980.0,1) (1980.6,1) (1981.0,1) (1981.4,1) (1981.9,1) (1982.6,1) (1983.0,1) (1983.9,1)
(1984.6,1) (1985.2,1) (1985.8,1) (1986.6,1) (1987.0,1) (1987.8,1) (1988.5,1) (1989.0,1)
(1989.6,1) (1990.6,1) (1991.2,1) (1991.8,1) (1992.4,1) (1993.0,1) (1993.4,1) (1994.0,1)
(1994.6,1) (1996.0,1) (1996.6,1) (1997.0,1) (1997.6,1) (1998.2,1) (1998.8,1) (1999.2,1)
(1999.9,1) (2000.4,1) (2000.9,1) (2001.8,1) (2002.6,1) (2003.0,1) (2003.9,1) (2004.3,1)
(2004.9,1) (2005.5,1) (2006.4,1) (2007.8,1) (2008.5,1) (2009.0,1) (2009.5,1) (2010.2,1)
(2010.8,1) (2011.5,1) (2012.0,1) (2012.7,1) (2015.0,1) (2015.8,1) (2016.5,1) (2017.1,1)};
\addplot[ycomb, barred, line width=3.5pt] coordinates {
(1965.85,1) (1966.35,1) (1967.5,1) (1972.8,1) (1974.3,1) (1976.0,1) (1977.6,1) (1979.3,1)
(1981.2,1) (1981.6,1) (1982.2,1) (1984.4,1) (1987.3,1) (1990.2,1) (1993.6,1) (1994.3,1)
(1997.2,1) (1999.5,1) (2001.4,1) (2002.3,1) (2003.6,1) (2006.0,1) (2015.9,1) (2016.3,1)};
\addplot[ycomb, bargreen, line width=0.9pt] coordinates {
(1969.2,1) (1970.7,1) (1971.2,1) (1972.9,1) (1974.8,1) (1975.8,1) (1976.6,1) (1977.5,1)
(1978.2,1) (1979.2,1) (1980.8,1) (1982.4,1) (1983.6,1) (1984.3,1) (1985.5,1) (1986.3,1)
(1987.5,1) (1988.2,1) (1989.3,1) (1990.4,1) (1991.5,1) (1992.2,1) (1993.2,1) (1994.2,1)
(1995.9,1) (1996.8,1) (1997.8,1) (1998.0,1) (1999.0,1) (2000.2,1) (2001.5,1) (2002.9,1)
(2003.6,1) (2004.0,1) (2005.2,1) (2006.2,1) (2007.7,1) (2008.0,1) (2008.8,1) (2009.3,1)
(2010.5,1) (2011.3,1) (2012.9,1) (2014.6,1) (2015.3,1) (2016.0,1) (2017.3,1) (2018.1,1)};
\addplot[bargreen, line width=0.8pt] coordinates {(1965.0,1) (2018.1,1)};
\end{axis}
\end{tikzpicture}
\end{document}
